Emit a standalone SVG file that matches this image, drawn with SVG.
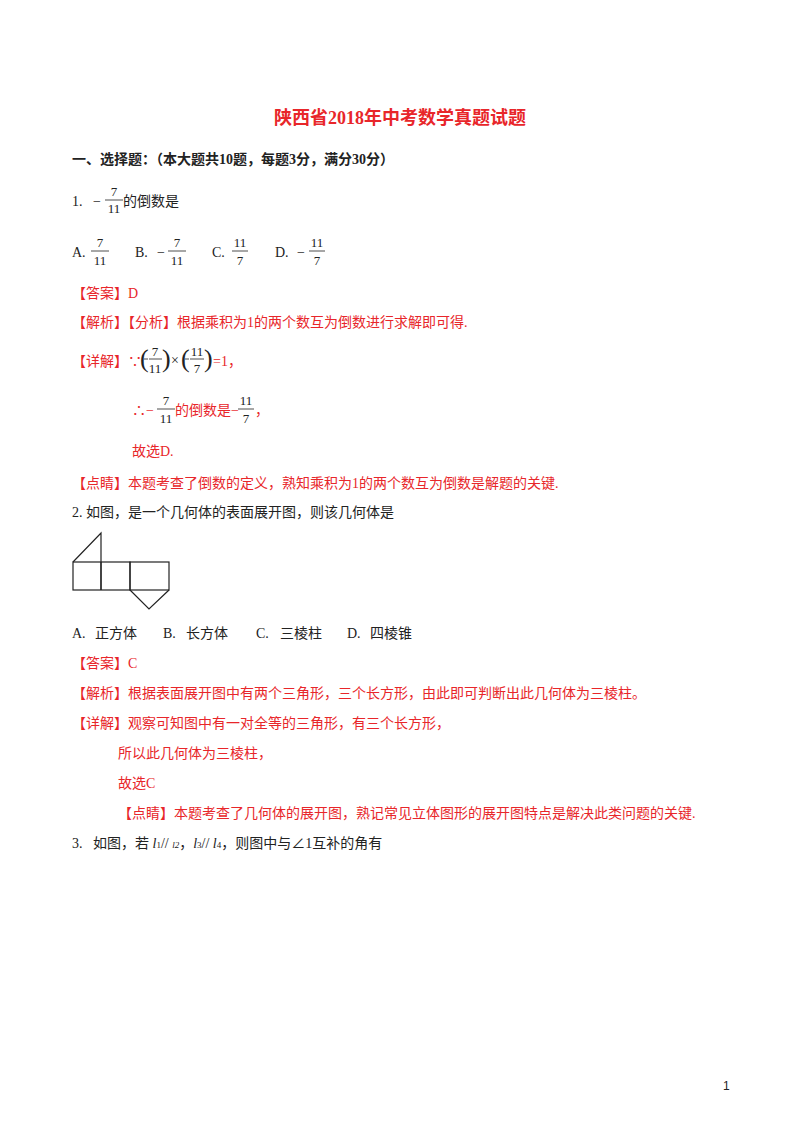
<svg xmlns="http://www.w3.org/2000/svg" width="800" height="1132" viewBox="0 0 800 1132">
<style>
text{font-family:"Liberation Serif","Noto Sans CJK SC",serif;font-size:14px;fill:#222}
.r{fill:#e8262a}
.b{font-weight:bold}
.s{font-size:13px}
.fl{stroke:#222;stroke-width:0.8}
.n{stroke:#222;stroke-width:1.2;fill:none}
</style>
<rect width="800" height="1132" fill="#fff"/>
<text x="400" y="124" text-anchor="middle" class="r b" style="font-size:18px">陕西省2018年中考数学真题试题</text>
<text x="72" y="164" class="b">一、选择题：（本大题共10题，每题3分，满分30分）</text>
<text x="72" y="206">1.</text><text x="93" y="206">−</text>
<text x="114" y="196" class="s" text-anchor="middle">7</text><line x1="105" y1="200" x2="123" y2="200" class="fl"/><text x="114" y="213" class="s" text-anchor="middle">11</text>
<text x="123" y="206">的倒数是</text>
<text x="72" y="257">A.</text>
<text x="100" y="247" class="s" text-anchor="middle">7</text><line x1="91" y1="251" x2="109" y2="251" class="fl"/><text x="100" y="265" class="s" text-anchor="middle">11</text>
<text x="135" y="257">B.</text><text x="157" y="257">−</text>
<text x="177" y="247" class="s" text-anchor="middle">7</text><line x1="168" y1="251" x2="186" y2="251" class="fl"/><text x="177" y="265" class="s" text-anchor="middle">11</text>
<text x="212" y="257">C.</text>
<text x="240" y="247" class="s" text-anchor="middle">11</text><line x1="232" y1="251" x2="248" y2="251" class="fl"/><text x="240" y="265" class="s" text-anchor="middle">7</text>
<text x="275" y="257">D.</text><text x="297" y="257">−</text>
<text x="317" y="247" class="s" text-anchor="middle">11</text><line x1="309" y1="251" x2="325" y2="251" class="fl"/><text x="317" y="265" class="s" text-anchor="middle">7</text>
<text x="72" y="298" class="r">【答案】D</text>
<text x="72" y="327" class="r">【解析】【分析】根据乘积为1的两个数互为倒数进行求解即可得.</text>
<text x="72" y="366" class="r">【详解】∵</text>
<text x="140" y="367" style="font-size:26px" fill="#666">(</text>
<line x1="144" y1="359" x2="148" y2="359" class="fl"/>
<text x="155" y="356" class="s" text-anchor="middle">7</text><line x1="149" y1="359" x2="162" y2="359" class="fl"/><text x="155" y="373" class="s" text-anchor="middle">11</text>
<text x="162" y="367" style="font-size:26px" fill="#666">)</text>
<text x="171" y="365" fill="#888">×</text>
<text x="181" y="367" style="font-size:26px" fill="#666">(</text>
<line x1="185" y1="359" x2="189" y2="359" class="fl"/>
<text x="197" y="356" class="s" text-anchor="middle">11</text><line x1="190" y1="359" x2="204" y2="359" class="fl"/><text x="197" y="373" class="s" text-anchor="middle">7</text>
<text x="204" y="367" style="font-size:26px" fill="#666">)</text>
<text x="213" y="366" class="r">=1，</text>
<text x="132" y="415" class="r">∴−</text>
<text x="166" y="405" class="s" text-anchor="middle">7</text><line x1="157" y1="409" x2="175" y2="409" class="fl"/><text x="166" y="423" class="s" text-anchor="middle">11</text>
<text x="175" y="415" class="r">的倒数是−</text>
<text x="246" y="405" class="s" text-anchor="middle">11</text><line x1="238" y1="409" x2="254" y2="409" class="fl"/><text x="246" y="423" class="s" text-anchor="middle">7</text>
<text x="255" y="415" class="r">，</text>
<text x="132" y="456" class="r">故选D.</text>
<text x="72" y="488" class="r">【点睛】本题考查了倒数的定义，熟知乘积为1的两个数互为倒数是解题的关键.</text>
<text x="72" y="517">2. 如图，是一个几何体的表面展开图，则该几何体是</text>
<g id="net">
<polyline points="73,562 101,533 101,590" class="n"/>
<rect x="73" y="562" width="57" height="28" class="n"/>
<line x1="101" y1="562" x2="101" y2="590" class="n"/>
<rect x="130" y="562" width="39" height="28" class="n"/>
<polyline points="130,590 149,609 169,590" class="n"/>
</g>
<text x="72" y="638">A.</text><text x="95" y="638">正方体</text>
<text x="163" y="638">B.</text><text x="186" y="638">长方体</text>
<text x="256" y="638">C.</text><text x="280" y="638">三棱柱</text>
<text x="347" y="638">D.</text><text x="370" y="638">四棱锥</text>
<text x="72" y="668" class="r">【答案】C</text>
<text x="72" y="698" class="r">【解析】根据表面展开图中有两个三角形，三个长方形，由此即可判断出此几何体为三棱柱。</text>
<text x="72" y="728" class="r">【详解】观察可知图中有一对全等的三角形，有三个长方形，</text>
<text x="118" y="758" class="r">所以此几何体为三棱柱，</text>
<text x="118" y="788" class="r">故选C</text>
<text x="118" y="818" class="r">【点睛】本题考查了几何体的展开图，熟记常见立体图形的展开图特点是解决此类问题的关键.</text>
<text x="72" y="848">3.</text><text x="93" y="848">如图，若 <tspan font-style="italic">l</tspan><tspan font-size="9">1</tspan>// <tspan font-style="italic" font-size="9">l2</tspan>，<tspan font-style="italic">l</tspan><tspan font-size="9">3</tspan>// <tspan font-style="italic">l</tspan><tspan font-size="9">4</tspan>，则图中与∠1互补的角有</text>
<text x="723" y="1090" style="font-family:'Liberation Sans',sans-serif;font-size:12px">1</text>
</svg>
